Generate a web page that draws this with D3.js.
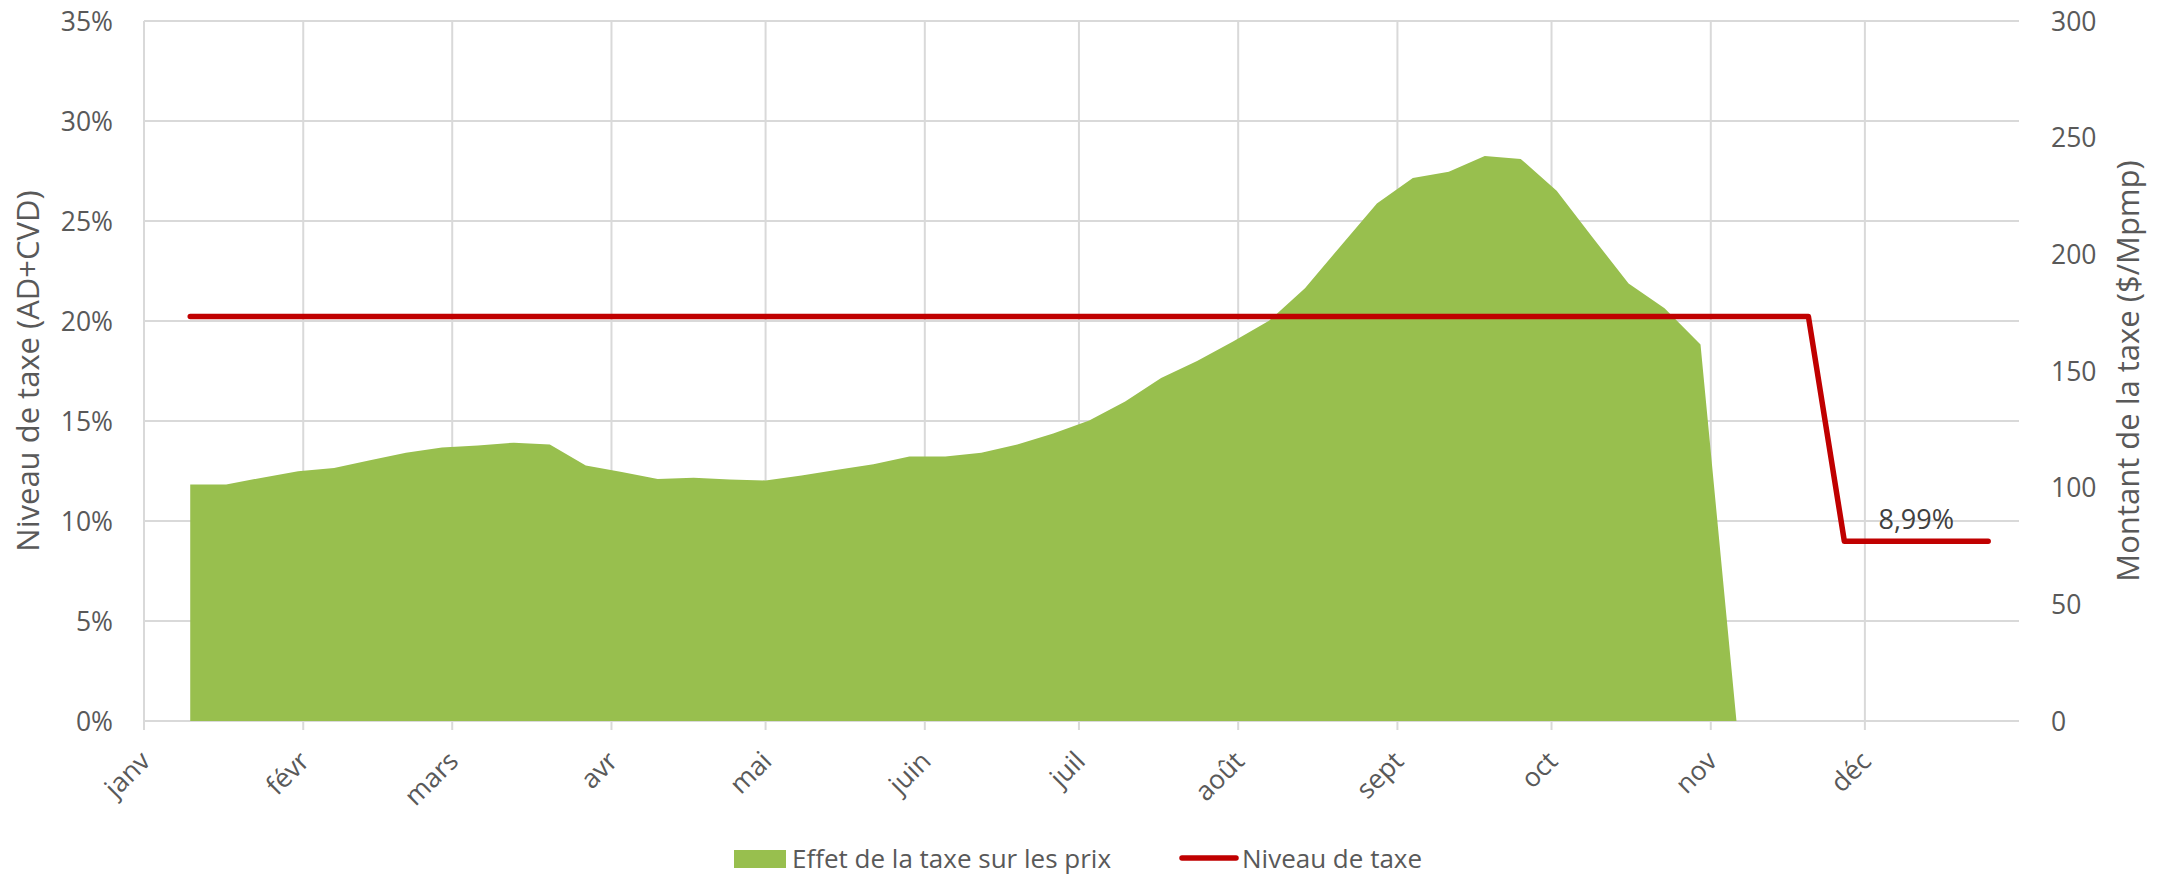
<!DOCTYPE html>
<html>
<head>
<meta charset="utf-8">
<script src="https://cdn.jsdelivr.net/npm/d3@7"></script>
<style>
  body { margin: 0; background: #fff; }
  svg text { font-family: "Open Sans", sans-serif; fill: #595959; }
</style>
</head>
<body>
<div id="chart"></div>
<script>
  // weekly observations (fridays), 2020
  var dates = ['2020-01-10','2020-01-17','2020-01-24','2020-01-31','2020-02-07','2020-02-14','2020-02-21','2020-02-28',
    '2020-03-06','2020-03-13','2020-03-20','2020-03-27','2020-04-03','2020-04-10','2020-04-17','2020-04-24',
    '2020-05-01','2020-05-08','2020-05-15','2020-05-22','2020-05-29','2020-06-05','2020-06-12','2020-06-19',
    '2020-06-26','2020-07-03','2020-07-10','2020-07-17','2020-07-24','2020-07-31','2020-08-07','2020-08-14',
    '2020-08-21','2020-08-28','2020-09-04','2020-09-11','2020-09-18','2020-09-25','2020-10-02','2020-10-09',
    '2020-10-16','2020-10-23','2020-10-30','2020-11-06','2020-11-13','2020-11-20','2020-11-27','2020-12-04',
    '2020-12-11','2020-12-18','2020-12-25'];

  // Effet de la taxe sur les prix ($/Mpmp, right axis) - stops on 2020-11-06
  var effetTaxe = [101.4, 101.4, 104.3, 107.0, 108.4, 111.7, 115.0, 117.2, 118.1, 119.3, 118.5,
    109.5, 106.7, 103.7, 104.3, 103.5, 103.1, 105.2, 107.7, 110.0, 113.4, 113.4, 115.0, 118.5,
    123.2, 128.8, 136.9, 147.0, 154.3, 162.6, 171.5, 185.5, 203.7, 221.8, 232.7, 235.4, 242.1,
    240.9, 227.3, 207.2, 187.5, 176.9, 161.4, 0];

  // Niveau de taxe AD+CVD (%, left axis)
  var niveauTaxe = [20.23, 20.23, 20.23, 20.23, 20.23, 20.23, 20.23, 20.23, 20.23, 20.23, 20.23,
    20.23, 20.23, 20.23, 20.23, 20.23, 20.23, 20.23, 20.23, 20.23, 20.23, 20.23, 20.23, 20.23,
    20.23, 20.23, 20.23, 20.23, 20.23, 20.23, 20.23, 20.23, 20.23, 20.23, 20.23, 20.23, 20.23,
    20.23, 20.23, 20.23, 20.23, 20.23, 20.23, 20.23, 20.23, 20.23, 8.99, 8.99, 8.99, 8.99, 8.99];

  var monthLabels = ['janv', 'févr', 'mars', 'avr', 'mai', 'juin', 'juil', 'août', 'sept', 'oct', 'nov', 'déc'];
  var leftTicks = [0, 5, 10, 15, 20, 25, 30, 35];
  var rightTicks = [0, 50, 100, 150, 200, 250, 300];
  var labelIndex = 48; // point carrying the "8,99%" label

  var W = 2172, H = 875;
  var plotL = 144, plotR = 2019, plotT = 21, plotB = 721;
  var parse = d3.timeParse('%Y-%m-%d');

  var svg = d3.select('#chart').append('svg')
    .attr('width', W).attr('height', H);

  var x = d3.scaleTime()
    .domain([parse('2020-01-01'), parse('2020-12-31')])
    .range([plotL, plotR]);
  var yL = d3.scaleLinear().domain([0, 35]).range([plotB, plotT]);
  var yR = d3.scaleLinear().domain([0, 300]).range([plotB, plotT]);

  var months = d3.timeMonth.range(parse('2020-01-01'), parse('2020-12-31'));

  // grid
  var grid = svg.append('g').attr('stroke', '#d9d9d9').attr('stroke-width', 2);
  grid.selectAll('line.h').data(leftTicks).enter().append('line')
    .attr('x1', plotL).attr('x2', plotR)
    .attr('y1', function(d) { return yL(d); }).attr('y2', function(d) { return yL(d); });
  grid.selectAll('line.v').data(months).enter().append('line')
    .attr('x1', function(d) { return x(d); }).attr('x2', function(d) { return x(d); })
    .attr('y1', plotT).attr('y2', plotB + 9);

  // area
  var area = d3.area()
    .x(function(d) { return x(parse(d.date)); })
    .y0(yR(0))
    .y1(function(d) { return yR(d.v); });
  var areaData = effetTaxe.map(function(v, i) { return { date: dates[i], v: v }; });
  svg.append('path').datum(areaData)
    .attr('d', area)
    .attr('fill', '#98bf4e');

  // line
  var line = d3.line()
    .x(function(d) { return x(parse(d.date)); })
    .y(function(d) { return yL(d.v); });
  var lineData = niveauTaxe.map(function(v, i) { return { date: dates[i], v: v }; });
  svg.append('path').datum(lineData)
    .attr('d', line)
    .attr('fill', 'none')
    .attr('stroke', '#c00000')
    .attr('stroke-width', 5.5)
    .attr('stroke-linecap', 'round')
    .attr('stroke-linejoin', 'round');

  svg.append('text')
    .attr('x', x(parse(dates[labelIndex])))
    .attr('y', yL(niveauTaxe[labelIndex]) - 12)
    .attr('text-anchor', 'middle')
    .style('font-size', '27px')
    .style('fill', '#404040')
    .text(d3.format('.2f')(niveauTaxe[labelIndex]).replace('.', ',') + '%');

  // left axis labels
  svg.append('g').selectAll('text').data(leftTicks).enter().append('text')
    .attr('x', 113).attr('y', function(d) { return yL(d); })
    .attr('dy', '0.36em')
    .attr('text-anchor', 'end')
    .style('font-size', '26.5px')
    .text(function(d) { return d + '%'; });

  // right axis labels
  svg.append('g').selectAll('text').data(rightTicks).enter().append('text')
    .attr('x', 2051).attr('y', function(d) { return yR(d); })
    .attr('dy', '0.36em')
    .attr('text-anchor', 'start')
    .style('font-size', '26.5px')
    .text(function(d) { return d; });

  // month labels
  svg.append('g').selectAll('text').data(months).enter().append('text')
    .attr('transform', function(d) { return 'translate(' + (x(d) + 1) + ',' + 756 + ') rotate(-45)'; })
    .attr('text-anchor', 'end')
    .attr('dy', '0.36em')
    .style('font-size', '26.5px')
    .text(function(d, i) { return monthLabels[i]; });

  // axis titles
  svg.append('text')
    .attr('transform', 'translate(39,' + ((plotT + plotB) / 2) + ') rotate(-90)')
    .attr('text-anchor', 'middle')
    .style('font-size', '31px')
    .text('Niveau de taxe (AD+CVD)');
  svg.append('text')
    .attr('transform', 'translate(2139,371) rotate(-90)')
    .attr('text-anchor', 'middle')
    .style('font-size', '31px')
    .text('Montant de la taxe ($/Mpmp)');

  // legend
  var legend = svg.append('g');
  legend.append('rect').attr('x', 734).attr('y', 850).attr('width', 52).attr('height', 18).attr('fill', '#98bf4e');
  legend.append('text').attr('x', 792).attr('y', 868).style('font-size', '26px').text('Effet de la taxe sur les prix');
  legend.append('line').attr('x1', 1182).attr('x2', 1236).attr('y1', 858).attr('y2', 858)
    .attr('stroke', '#c00000').attr('stroke-width', 5.5).attr('stroke-linecap', 'round');
  legend.append('text').attr('x', 1242).attr('y', 868).style('font-size', '26px').text('Niveau de taxe');
</script>
</body>
</html>
